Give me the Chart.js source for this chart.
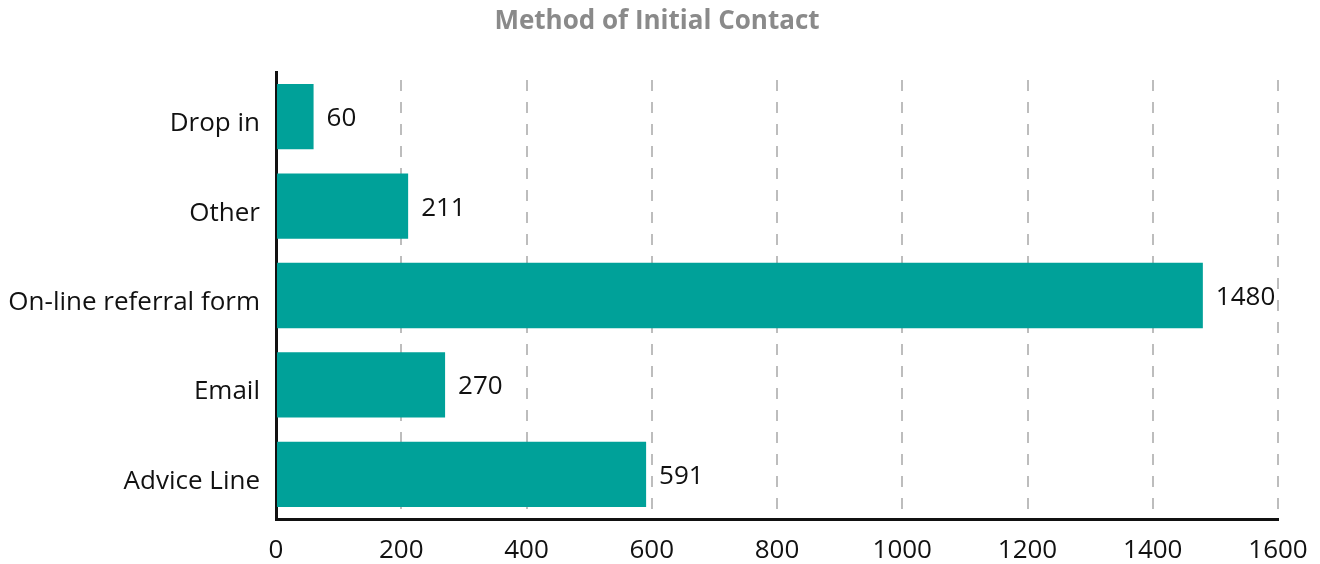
<!DOCTYPE html>
<html lang="en">
<head>
  <meta charset="UTF-8" />
  <title>Method of Initial Contact</title>
  <script src="https://cdn.jsdelivr.net/npm/chart.js"></script>
  <style>
    body { margin: 0; background: #fff; }
    #wrap { width: 1320px; height: 564px; position: relative; }
  </style>
</head>
<body>
  <div id="wrap"><canvas id="contactChart"></canvas></div>

  <script>
    const categories = ['Drop in', 'Other', 'On-line referral form', 'Email', 'Advice Line'];
    const contacts = [60, 211, 1480, 270, 591];
    const xTicks = [0, 200, 400, 600, 800, 1000, 1200, 1400, 1600];
    const chartTitle = 'Method of Initial Contact';

    const FONT = "'Open Sans', sans-serif";

    // title centred on the whole canvas, value labels past the end of each bar
    const annotate = {
      id: 'annotate',
      afterDatasetsDraw(chart) {
        const ctx = chart.ctx;
        ctx.save();
        ctx.textBaseline = 'middle';

        ctx.font = 'bold 26px ' + FONT;
        ctx.fillStyle = '#8a8a8a';
        ctx.textAlign = 'center';
        ctx.fillText(chartTitle, 657, 22);

        ctx.font = '26px ' + FONT;
        ctx.fillStyle = '#111';
        ctx.textAlign = 'left';
        chart.getDatasetMeta(0).data.forEach((bar, i) => {
          ctx.fillText(contacts[i], bar.x + 13, bar.y + 2);
        });
        ctx.restore();
      }
    };

    new Chart(document.getElementById('contactChart'), {
      type: 'bar',
      data: {
        labels: categories,
        datasets: [{
          data: contacts,
          backgroundColor: '#00a199',
          categoryPercentage: 1,
          barPercentage: 0.73
        }]
      },
      options: {
        indexAxis: 'y',
        responsive: true,
        maintainAspectRatio: false,
        animation: false,
        layout: { padding: { left: 0, right: 42, top: 72, bottom: 0 } },
        plugins: {
          legend: { display: false },
          tooltip: { enabled: false },
          title: { display: false }
        },
        scales: {
          x: {
            min: 0,
            max: 1600,
            afterBuildTicks: scale => { scale.ticks = xTicks.map(v => ({ value: v })); },
            afterFit: scale => {
              scale.height = 45;
              // let the layout padding alone decide where the plot ends
              scale.paddingLeft = 0;
              scale.paddingRight = 0;
            },
            grid: { color: '#bdbdbd', lineWidth: 2, drawTicks: false },
            border: { display: true, color: '#111', width: 3, dash: [11, 11], dashOffset: 14 },
            ticks: {
              color: '#111',
              padding: 16,
              font: { family: FONT, size: 26 },
              callback: v => String(v)
            }
          },
          y: {
            afterFit: scale => { scale.width = 276; },
            grid: { display: false, drawTicks: false },
            border: { display: true, color: '#111', width: 3 },
            ticks: {
              color: '#111',
              padding: 16,
              labelOffset: 7,
              font: { family: FONT, size: 26 }
            }
          }
        }
      },
      plugins: [annotate]
    });
  </script>
</body>
</html>
